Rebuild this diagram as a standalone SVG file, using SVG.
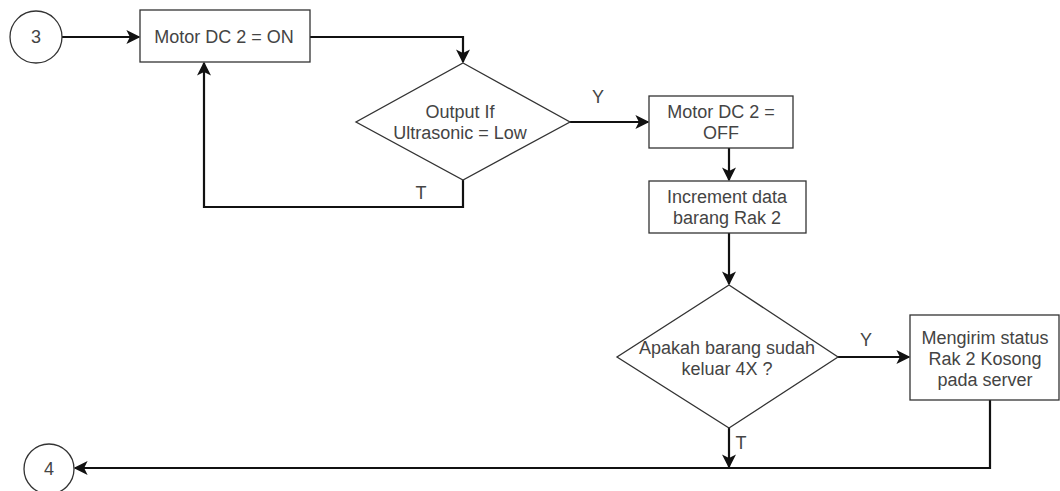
<svg xmlns="http://www.w3.org/2000/svg" width="1060" height="491" viewBox="0 0 1060 491">
<style>
.n{fill:#fff;stroke:#333;stroke-width:1.3}
.t{font-family:"Liberation Sans",Arial,sans-serif;font-size:18px;fill:#444;text-anchor:middle}
.c{fill:none;stroke:#111;stroke-width:2.2}
</style>
<defs>
<marker id="a" viewBox="0 0 10 10" refX="9" refY="5" markerWidth="14" markerHeight="14" markerUnits="userSpaceOnUse" orient="auto">
<path d="M0,0 L10,5 L0,10 L2.5,5 Z" fill="#111"/>
</marker>
</defs>
<rect width="1060" height="491" fill="#fff"/>
<g id="connectors">
<path class="c" d="M62,37 H139" marker-end="url(#a)"/>
<path class="c" d="M310,37 H463 V62" marker-end="url(#a)"/>
<path class="c" d="M463,180 V207 H204 V63" marker-end="url(#a)"/>
<path class="c" d="M570,122 H648" marker-end="url(#a)"/>
<path class="c" d="M729,148 V180" marker-end="url(#a)"/>
<path class="c" d="M729,233 V284" marker-end="url(#a)"/>
<path class="c" d="M838,357 H909" marker-end="url(#a)"/>
<path class="c" d="M729,428 V467" marker-end="url(#a)"/>
<path class="c" d="M990,400 V468 H75" marker-end="url(#a)"/>
<text class="t" x="598" y="103">Y</text>
<text class="t" x="421" y="199">T</text>
<text class="t" x="866" y="346">Y</text>
<text class="t" x="741" y="449">T</text>
</g>
<g id="start3">
<circle class="n" cx="36" cy="37" r="26"/>
<text class="t" x="36" y="43">3</text>
</g>
<g id="motor-on">
<rect class="n" x="140" y="10" width="170" height="52"/>
<text class="t" x="224" y="43">Motor DC 2 = ON</text>
</g>
<g id="dec-ultrasonic">
<polygon class="n" points="463,63 570,122 463,180 356,122"/>
<text class="t" x="460" y="118">Output If</text>
<text class="t" x="460" y="139">Ultrasonic = Low</text>
</g>
<g id="motor-off">
<rect class="n" x="649" y="96" width="144" height="52"/>
<text class="t" x="721" y="118">Motor DC 2 =</text>
<text class="t" x="721" y="139">OFF</text>
</g>
<g id="increment">
<rect class="n" x="649" y="181" width="157" height="52"/>
<text class="t" x="727" y="203">Increment data</text>
<text class="t" x="727" y="224">barang Rak 2</text>
</g>
<g id="dec-4x">
<polygon class="n" points="729,285 838,357 729,428 617,357"/>
<text class="t" x="727" y="354">Apakah barang sudah</text>
<text class="t" x="727" y="375">keluar 4X ?</text>
</g>
<g id="kirim-status">
<rect class="n" x="910" y="315" width="149" height="85"/>
<text class="t" x="985" y="344">Mengirim status</text>
<text class="t" x="985" y="365">Rak 2 Kosong</text>
<text class="t" x="985" y="386">pada server</text>
</g>
<g id="end4">
<circle class="n" cx="49" cy="469" r="25"/>
<text class="t" x="49" y="475">4</text>
</g>
</svg>
